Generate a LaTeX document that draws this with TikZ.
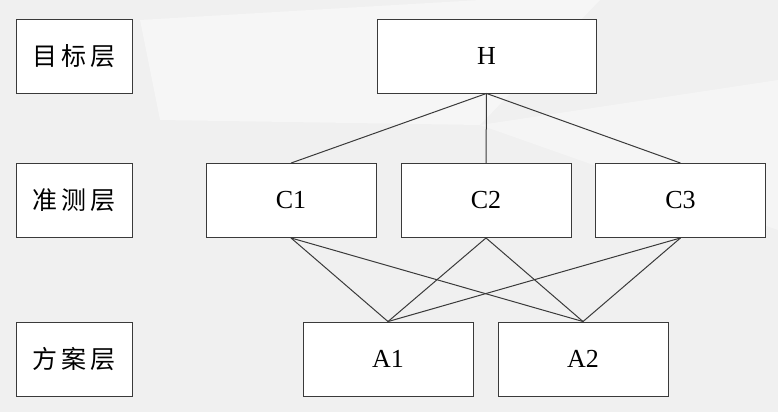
\documentclass[tikz,border=0pt]{standalone}
\usepackage{fontspec}
\setmainfont{Liberation Serif}
\newfontfamily\cjk{Noto Sans CJK SC}
\definecolor{bgc}{HTML}{F0F0F0}
\definecolor{edge}{HTML}{3A3A3A}
\begin{document}
\begin{tikzpicture}[x=1pt,y=-1pt,
  boxst/.style={draw=edge,line width=0.9pt,fill=white,minimum height=74pt,inner sep=0pt},
  lvl/.style={boxst,minimum width=116pt,font=\cjk\fontsize{25}{25}\selectfont},
  itm/.style={boxst,minimum width=170pt,font=\fontsize{26}{26}\selectfont},
  conn/.style={draw=edge,line width=1pt}]
\fill[bgc] (0,0) rectangle (778,412);
\fill[white!40!bgc] (140,20) -- (480,0) -- (600,0) -- (480,125) -- (160,120) -- cycle;
\fill[white!30!bgc] (480,125) -- (778,80) -- (778,230) -- cycle;
\useasboundingbox (0,0) rectangle (778,412);
\node[lvl] (L1) at (74,56) {目\,标\,层};
\node[lvl] (L2) at (74,200.5) {准\,测\,层};
\node[lvl] (L3) at (74,359) {方\,案\,层};
\node[itm,minimum width=219pt] (H) at (486.5,56) {H};
\node[itm] (C1) at (291,200.5) {C1};
\node[itm] (C2) at (486,200.5) {C2};
\node[itm] (C3) at (680.5,200.5) {C3};
\node[itm] (A1) at (388,359) {A1};
\node[itm] (A2) at (583,359) {A2};
\foreach \c in {C1,C2,C3}{\draw[conn] (H.south) -- (\c.north);}
\foreach \c in {C1,C2,C3}{\foreach \a in {A1,A2}{\draw[conn] (\c.south) -- (\a.north);}}
\end{tikzpicture}
\end{document}
